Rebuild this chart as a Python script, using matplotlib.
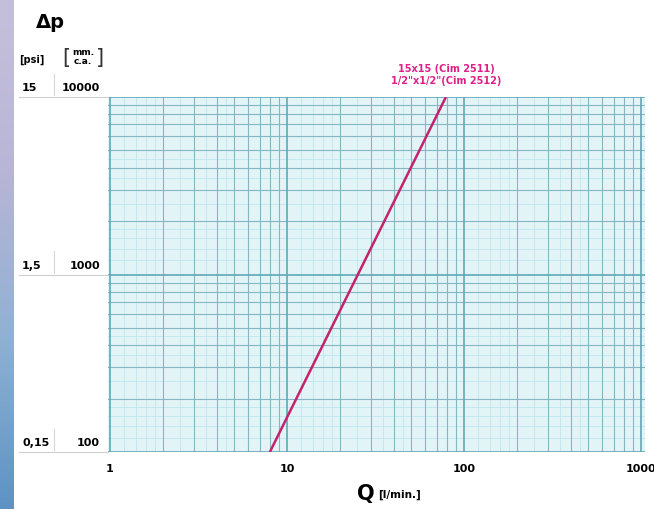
import numpy as np
import matplotlib.pyplot as plt
from matplotlib.lines import Line2D

# data
flow = [8, 79]              # Q [l/min.]
pressure = [100, 10000]     # delta p [mm c.a.]
x_ticks = [1, 10, 100, 1000]
y_ticks = [100, 1000, 10000]
psi_labels = ['0,15', '1,5', '15']
mm_labels = ['100', '1000', '10000']
curve_label = '15x15 (Cim 2511)\n1/2"x1/2"(Cim 2512)'

fig = plt.figure(figsize=(6.54, 5.09), dpi=100)
fig.patch.set_facecolor('white')

# bluish photo edge on the left
edge = fig.add_axes([0, 0, 0.02, 1])
grad = np.linspace(0, 1, 256).reshape(-1, 1)
edge.imshow(grad, aspect='auto', cmap=plt.matplotlib.colors.LinearSegmentedColormap.from_list(
    'edge', ['#5c93c4', '#8fb1d3', '#b9b5d6', '#c4c0dc']), origin='lower')
edge.axis('off')

ax = fig.add_axes([108 / 654, 57 / 509, 537 / 654, 355 / 509])
ax.set_xscale('log')
ax.set_yscale('log')
ax.set_xlim(0.974, 1053)
ax.set_ylim(100, 10000)
ax.set_facecolor('#e3f4f7')

# graph paper grid
fine = [1.2, 1.4, 1.6, 1.8, 2.5, 3.5, 4.5]
for dec in [1, 10, 100]:
    for s in fine:
        ax.axvline(dec * s, color='#bfe6ee', lw=0.6, zorder=1)
    for s in range(2, 10):
        ax.axvline(dec * s, color='#86b6c4', lw=0.8, zorder=2)
for dec in [100, 1000]:
    for s in fine:
        ax.axhline(dec * s, color='#bfe6ee', lw=0.6, zorder=1)
    for s in range(2, 10):
        ax.axhline(dec * s, color='#86b6c4', lw=0.8, zorder=2)
for v in x_ticks:
    ax.axvline(v, color='#5fa9b8', lw=1.2, zorder=2)
for v in y_ticks:
    ax.axhline(v, color='#5fa9b8', lw=1.2, zorder=2)

ax.plot(flow, pressure, color='#c4236c', lw=1.8, zorder=5, solid_capstyle='butt')
ax.text(79, 11500, curve_label, color='#e0208a', fontsize=7, fontweight='bold',
        ha='center', va='bottom', linespacing=1.3, clip_on=False)

for sp in ax.spines.values():
    sp.set_visible(False)
ax.set_yticks([])
ax.set_yticks([], minor=True)
ax.set_xticks(x_ticks)
ax.set_xticklabels([str(v) for v in x_ticks], fontsize=8, fontweight='bold')
ax.set_xticks([], minor=True)
ax.tick_params(axis='x', length=0, pad=9)

# left table of pressure labels
ytr = ax.get_yaxis_transform()
for v, p, m in zip(y_ticks, psi_labels, mm_labels):
    ax.text(-0.160, v * 1.05, p, transform=ytr, ha='left', va='bottom',
            fontsize=8, fontweight='bold', clip_on=False)
    ax.text(-0.015, v * 1.05, m, transform=ytr, ha='right', va='bottom',
            fontsize=8, fontweight='bold', clip_on=False)
    ax.add_line(Line2D([-0.165, 0], [v, v], transform=ytr, color='#cfcfcf',
                       lw=0.8, clip_on=False))
    ax.add_line(Line2D([-0.100, -0.100], [v * 1.02, v * 1.35], transform=ytr,
                       color='#d8d8d8', lw=0.8, clip_on=False))

# headers
fig.text(50 / 654, 1 - 22 / 509, '\u0394p', fontsize=14, fontweight='bold',
         ha='center', va='center')
fig.text(32 / 654, 1 - 60 / 509, '[psi]', fontsize=7, fontweight='bold',
         ha='center', va='center')
fig.text(66 / 654, 1 - 58 / 509, '[', fontsize=15, ha='center', va='center',
         color='#333333')
fig.text(83 / 654, 1 - 57 / 509, 'mm.\nc.a.', fontsize=6.5, fontweight='bold',
         ha='center', va='center', linespacing=0.9)
fig.text(100 / 654, 1 - 58 / 509, ']', fontsize=15, ha='center', va='center',
         color='#333333')

# x axis label
fig.text(375 / 654, 1 - 494 / 509, 'Q', fontsize=15, fontweight='bold',
         ha='right', va='center')
fig.text(378 / 654, 1 - 495 / 509, '[l/min.]', fontsize=7.5, fontweight='bold',
         ha='left', va='center')

fig.savefig('out.png', dpi=100)
